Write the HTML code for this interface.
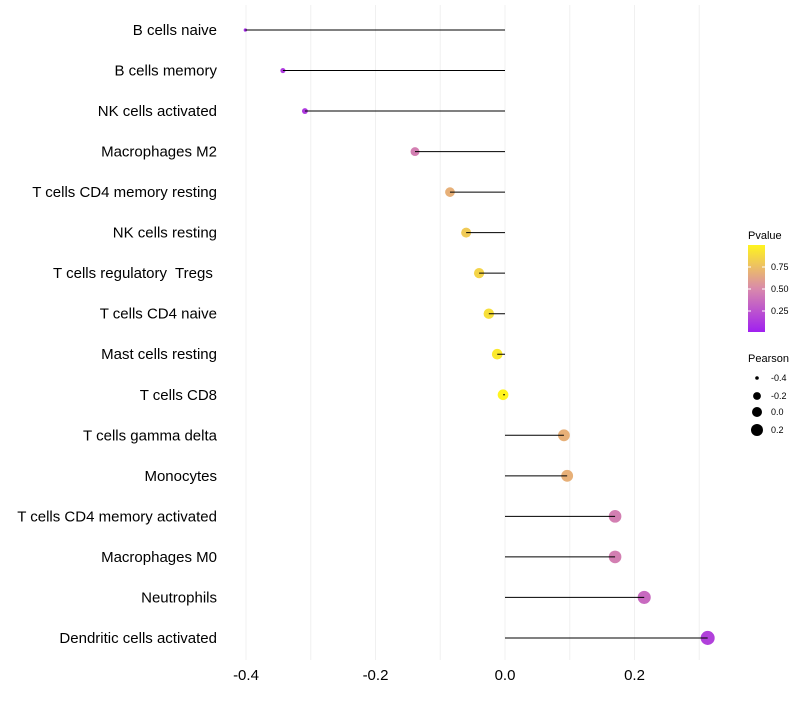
<!DOCTYPE html>
<html><head><meta charset="utf-8"><style>
body{margin:0;background:#fff;font-family:"Liberation Sans",sans-serif}
text{white-space:pre}
</style></head><body>
<svg id="chart" width="800" height="700" xmlns="http://www.w3.org/2000/svg">
<defs><linearGradient id="pg" x1="0" y1="1" x2="0" y2="0">
<stop offset="0" stop-color="#a020f0"/><stop offset="0.5" stop-color="#d98aab"/><stop offset="1" stop-color="#fff41e"/></linearGradient></defs>
<g id="grid"></g><g id="marks"></g><g id="ylab"></g><g id="xlab"></g>
<g font-size="10" fill="#000">
<text x="748" y="239" font-size="11">Pvalue</text>
<rect x="748" y="245" width="17" height="87" fill="url(#pg)"/>
<line x1="748" x2="751" y1="267" y2="267" stroke="#fff"/><line x1="762" x2="765" y1="267" y2="267" stroke="#fff"/>
<line x1="748" x2="751" y1="289" y2="289" stroke="#fff"/><line x1="762" x2="765" y1="289" y2="289" stroke="#fff"/>
<line x1="748" x2="751" y1="311" y2="311" stroke="#fff"/><line x1="762" x2="765" y1="311" y2="311" stroke="#fff"/>
<text x="771" y="270" font-size="9">0.75</text><text x="771" y="292" font-size="9">0.50</text><text x="771" y="314" font-size="9">0.25</text>
</g>
<g fill="#000">
<text x="748" y="362" font-size="11">Pearson</text>
<circle cx="757" cy="378" r="1.8"/><text x="771" y="381" font-size="9">-0.4</text>
<circle cx="757" cy="396" r="3.9"/><text x="771" y="399" font-size="9">-0.2</text>
<circle cx="757" cy="412" r="5"/><text x="771" y="415" font-size="9">0.0</text>
<circle cx="757" cy="430" r="6"/><text x="771" y="433" font-size="9">0.2</text>
</g>
</svg>
<script>
const categories=["B cells naive","B cells memory","NK cells activated","Macrophages M2","T cells CD4 memory resting","NK cells resting","T cells regulatory  Tregs ","T cells CD4 naive","Mast cells resting","T cells CD8","T cells gamma delta","Monocytes","T cells CD4 memory activated","Macrophages M0","Neutrophils","Dendritic cells activated"];
const pearson=[-0.401,-0.343,-0.309,-0.139,-0.085,-0.060,-0.040,-0.025,-0.012,-0.003,0.091,0.096,0.170,0.170,0.215,0.313];
const pvalue=[0.05,0.12,0.12,0.45,0.68,0.8,0.85,0.9,0.95,1.0,0.68,0.68,0.45,0.45,0.35,0.15];
const xTicks=[-0.4,-0.2,0.0,0.2];
const xGrid=[-0.4,-0.3,-0.2,-0.1,0,0.1,0.2,0.3];
const NS="http://www.w3.org/2000/svg";
const x=v=>505+v*647.5;
const y=i=>30+i*40.53;
const rad=v=>Math.sqrt(Math.max(2,2.9+65*(v+0.4)));
function col(p){const s=[[160,32,240],[217,138,171],[255,244,30]];let t=Math.max(0,Math.min(1,p))*2;let a=t<1?s[0]:s[1],b=t<1?s[1]:s[2];t=t<1?t:t-1;return `rgb(${a.map((c,k)=>Math.round(c+(b[k]-c)*t)).join(',')})`;}
function mk(tag,attrs,parent){const e=document.createElementNS(NS,tag);for(const k in attrs)e.setAttribute(k,attrs[k]);document.getElementById(parent).appendChild(e);return e;}
xGrid.forEach(v=>{const l=mk('line',{x1:x(v),x2:x(v),y1:5,y2:660,stroke:'#f0f0f0','stroke-width':1},'grid');

});
xTicks.forEach(v=>{const t=mk('text',{x:x(v),y:680,'text-anchor':'middle','font-size':15,fill:'#000'},'xlab');t.textContent=v.toFixed(1);

});
categories.forEach((c,i)=>{const t=mk('text',{x:217,y:y(i)+5,'text-anchor':'end','font-size':15,fill:'#000'},'ylab');t.textContent=c;


const d=mk('circle',{cx:x(pearson[i]),cy:y(i),r:rad(pearson[i]),fill:col(pvalue[i])},'marks');


const l=mk('line',{x1:x(0),x2:x(pearson[i]),y1:y(i),y2:y(i),stroke:'#000','stroke-width':1},'marks');

});
</script>
</body></html>
